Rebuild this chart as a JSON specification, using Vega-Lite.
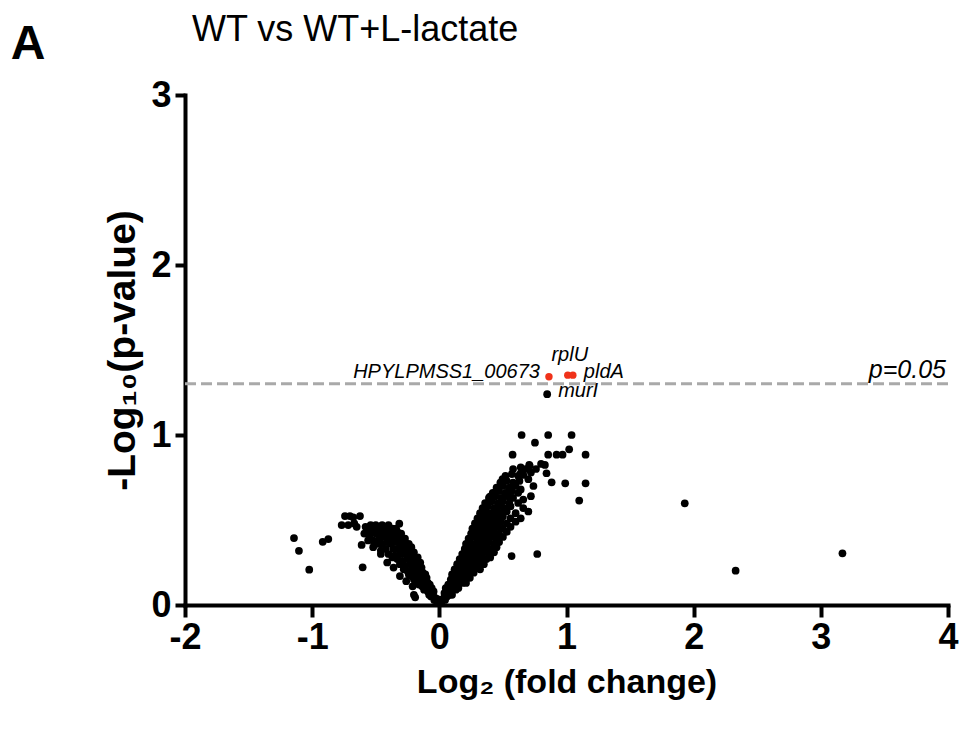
{
  "$schema": "https://vega.github.io/schema/vega-lite/v6.json",
  "width": 763,
  "height": 510,
  "autosize": {"type": "none"},
  "padding": {"left": 185, "top": 95, "right": 15, "bottom": 126},
  "background": "white",
  "config": {
    "view": {"stroke": null},
    "axis": {
      "grid": false,
      "domainColor": "black",
      "domainWidth": 4,
      "domainCap": "square",
      "tickColor": "black",
      "tickWidth": 4,
      "labelFont": "Liberation Sans",
      "labelFontWeight": "bold",
      "labelFontSize": 36,
      "labelColor": "black",
      "labelFlush": false,
      "labelOverlap": false,
      "titleFont": "Liberation Sans",
      "titleFontWeight": "bold",
      "titleColor": "black"
    }
  },
  "datasets": {
    "ns": [
      {"fc":-0.02,"logp":0.02},{"fc":-0.03,"logp":0.04},{"fc":-0.015,"logp":0.035},{"fc":-0.04,"logp":0.03},
      {"fc":-0.05,"logp":0.06},{"fc":-0.045,"logp":0.08},{"fc":-0.065,"logp":0.05},{"fc":-0.07,"logp":0.09},{"fc":-0.08,"logp":0.06},
      {"fc":-0.06,"logp":0.1},{"fc":-0.09,"logp":0.08},{"fc":-0.1,"logp":0.1},{"fc":-0.12,"logp":0.09},{"fc":-0.075,"logp":0.12},
      {"fc":-0.09,"logp":0.13},{"fc":-0.11,"logp":0.12},{"fc":-0.135,"logp":0.11},{"fc":-0.16,"logp":0.12},{"fc":-0.1,"logp":0.16},
      {"fc":-0.12,"logp":0.15},{"fc":-0.14,"logp":0.14},{"fc":-0.17,"logp":0.14},{"fc":-0.2,"logp":0.15},{"fc":-0.11,"logp":0.18},
      {"fc":-0.13,"logp":0.19},{"fc":-0.155,"logp":0.17},{"fc":-0.18,"logp":0.17},{"fc":-0.22,"logp":0.17},{"fc":-0.24,"logp":0.18},
      {"fc":-0.14,"logp":0.22},{"fc":-0.165,"logp":0.21},{"fc":-0.19,"logp":0.2},{"fc":-0.21,"logp":0.21},{"fc":-0.25,"logp":0.2},{"fc":-0.28,"logp":0.21},
      {"fc":-0.15,"logp":0.25},{"fc":-0.18,"logp":0.24},{"fc":-0.2,"logp":0.23},{"fc":-0.23,"logp":0.24},{"fc":-0.27,"logp":0.23},{"fc":-0.31,"logp":0.24},
      {"fc":-0.17,"logp":0.28},{"fc":-0.2,"logp":0.27},{"fc":-0.22,"logp":0.28},{"fc":-0.25,"logp":0.27},{"fc":-0.29,"logp":0.26},{"fc":-0.33,"logp":0.27},{"fc":-0.37,"logp":0.28},
      {"fc":-0.2,"logp":0.31},{"fc":-0.23,"logp":0.3},{"fc":-0.26,"logp":0.31},{"fc":-0.28,"logp":0.3},{"fc":-0.31,"logp":0.3},{"fc":-0.35,"logp":0.29},{"fc":-0.4,"logp":0.3},
      {"fc":-0.22,"logp":0.34},{"fc":-0.25,"logp":0.33},{"fc":-0.29,"logp":0.34},{"fc":-0.32,"logp":0.33},{"fc":-0.36,"logp":0.33},{"fc":-0.42,"logp":0.33},{"fc":-0.46,"logp":0.32},
      {"fc":-0.24,"logp":0.36},{"fc":-0.28,"logp":0.37},{"fc":-0.31,"logp":0.36},{"fc":-0.34,"logp":0.37},{"fc":-0.38,"logp":0.36},{"fc":-0.41,"logp":0.37},{"fc":-0.45,"logp":0.36},{"fc":-0.49,"logp":0.36},
      {"fc":-0.27,"logp":0.39},{"fc":-0.3,"logp":0.4},{"fc":-0.33,"logp":0.39},{"fc":-0.36,"logp":0.4},{"fc":-0.39,"logp":0.39},{"fc":-0.43,"logp":0.4},{"fc":-0.47,"logp":0.39},{"fc":-0.52,"logp":0.38},
      {"fc":-0.3,"logp":0.42},{"fc":-0.33,"logp":0.43},{"fc":-0.36,"logp":0.42},{"fc":-0.39,"logp":0.43},{"fc":-0.42,"logp":0.42},{"fc":-0.46,"logp":0.43},{"fc":-0.5,"logp":0.42},{"fc":-0.55,"logp":0.41},{"fc":-0.59,"logp":0.42},
      {"fc":-0.34,"logp":0.45},{"fc":-0.37,"logp":0.45},{"fc":-0.41,"logp":0.46},{"fc":-0.44,"logp":0.45},{"fc":-0.48,"logp":0.45},{"fc":-0.52,"logp":0.44},{"fc":-0.56,"logp":0.45},
      {"fc":-0.4,"logp":0.47},{"fc":-0.45,"logp":0.47},{"fc":-0.5,"logp":0.47},{"fc":-0.54,"logp":0.47},{"fc":-0.58,"logp":0.46},
      {"fc":-0.41,"logp":0.25},{"fc":-0.31,"logp":0.17},{"fc":-0.36,"logp":0.22},{"fc":-0.46,"logp":0.3},{"fc":-0.52,"logp":0.34},{"fc":-0.26,"logp":0.14},{"fc":-0.56,"logp":0.38},{"fc":-0.21,"logp":0.11},
      {"fc":-0.2,"logp":0.06},{"fc":-0.19,"logp":0.045},{"fc":-0.315,"logp":0.478},{"fc":-0.611,"logp":0.353},{"fc":-0.603,"logp":0.222},
      {"fc":-0.768,"logp":0.47},{"fc":-0.742,"logp":0.523},{"fc":-0.703,"logp":0.523},{"fc":-0.677,"logp":0.516},{"fc":-0.624,"logp":0.523},{"fc":-0.65,"logp":0.46},{"fc":-0.716,"logp":0.47},{"fc":-0.669,"logp":0.48},
      {"fc":-0.873,"logp":0.388},{"fc":-0.917,"logp":0.372},{"fc":-1.023,"logp":0.208},{"fc":-1.104,"logp":0.319},{"fc":-1.143,"logp":0.394},
      {"fc":0.02,"logp":0.02},{"fc":0.035,"logp":0.04},{"fc":0.015,"logp":0.03},{"fc":0.045,"logp":0.03},
      {"fc":0.04,"logp":0.07},{"fc":0.06,"logp":0.05},{"fc":0.08,"logp":0.06},{"fc":0.1,"logp":0.06},
      {"fc":0.05,"logp":0.1},{"fc":0.07,"logp":0.09},{"fc":0.1,"logp":0.09},{"fc":0.13,"logp":0.09},{"fc":0.15,"logp":0.1},
      {"fc":0.07,"logp":0.12},{"fc":0.09,"logp":0.13},{"fc":0.12,"logp":0.12},{"fc":0.15,"logp":0.12},{"fc":0.18,"logp":0.13},{"fc":0.21,"logp":0.13},
      {"fc":0.09,"logp":0.15},{"fc":0.11,"logp":0.16},{"fc":0.14,"logp":0.15},{"fc":0.17,"logp":0.16},{"fc":0.2,"logp":0.15},{"fc":0.24,"logp":0.16},
      {"fc":0.1,"logp":0.18},{"fc":0.13,"logp":0.19},{"fc":0.16,"logp":0.18},{"fc":0.19,"logp":0.19},{"fc":0.23,"logp":0.18},{"fc":0.27,"logp":0.19},
      {"fc":0.12,"logp":0.21},{"fc":0.15,"logp":0.22},{"fc":0.18,"logp":0.21},{"fc":0.21,"logp":0.22},{"fc":0.25,"logp":0.21},{"fc":0.29,"logp":0.22},{"fc":0.32,"logp":0.21},
      {"fc":0.14,"logp":0.24},{"fc":0.17,"logp":0.25},{"fc":0.2,"logp":0.24},{"fc":0.23,"logp":0.25},{"fc":0.27,"logp":0.24},{"fc":0.31,"logp":0.25},{"fc":0.35,"logp":0.24},
      {"fc":0.16,"logp":0.27},{"fc":0.19,"logp":0.28},{"fc":0.22,"logp":0.27},{"fc":0.25,"logp":0.28},{"fc":0.29,"logp":0.27},{"fc":0.33,"logp":0.28},{"fc":0.37,"logp":0.27},{"fc":0.4,"logp":0.28},
      {"fc":0.18,"logp":0.3},{"fc":0.21,"logp":0.31},{"fc":0.24,"logp":0.3},{"fc":0.27,"logp":0.31},{"fc":0.31,"logp":0.3},{"fc":0.35,"logp":0.31},{"fc":0.39,"logp":0.3},{"fc":0.43,"logp":0.31},
      {"fc":0.2,"logp":0.33},{"fc":0.23,"logp":0.34},{"fc":0.26,"logp":0.33},{"fc":0.3,"logp":0.34},{"fc":0.33,"logp":0.33},{"fc":0.37,"logp":0.34},{"fc":0.41,"logp":0.33},{"fc":0.45,"logp":0.34},
      {"fc":0.21,"logp":0.36},{"fc":0.24,"logp":0.37},{"fc":0.28,"logp":0.36},{"fc":0.32,"logp":0.37},{"fc":0.35,"logp":0.36},{"fc":0.39,"logp":0.37},{"fc":0.43,"logp":0.36},{"fc":0.47,"logp":0.37},
      {"fc":0.23,"logp":0.39},{"fc":0.26,"logp":0.4},{"fc":0.3,"logp":0.39},{"fc":0.34,"logp":0.4},{"fc":0.37,"logp":0.39},{"fc":0.41,"logp":0.4},{"fc":0.45,"logp":0.39},{"fc":0.5,"logp":0.4},
      {"fc":0.25,"logp":0.42},{"fc":0.28,"logp":0.43},{"fc":0.32,"logp":0.42},{"fc":0.36,"logp":0.43},{"fc":0.39,"logp":0.42},{"fc":0.43,"logp":0.43},{"fc":0.47,"logp":0.42},{"fc":0.53,"logp":0.43},
      {"fc":0.26,"logp":0.45},{"fc":0.3,"logp":0.46},{"fc":0.34,"logp":0.45},{"fc":0.38,"logp":0.46},{"fc":0.42,"logp":0.45},{"fc":0.46,"logp":0.46},{"fc":0.5,"logp":0.45},{"fc":0.56,"logp":0.46},
      {"fc":0.28,"logp":0.48},{"fc":0.32,"logp":0.49},{"fc":0.36,"logp":0.48},{"fc":0.4,"logp":0.49},{"fc":0.44,"logp":0.48},{"fc":0.48,"logp":0.49},{"fc":0.53,"logp":0.48},{"fc":0.6,"logp":0.49},
      {"fc":0.3,"logp":0.51},{"fc":0.34,"logp":0.52},{"fc":0.38,"logp":0.51},{"fc":0.42,"logp":0.52},{"fc":0.46,"logp":0.51},{"fc":0.5,"logp":0.52},{"fc":0.56,"logp":0.51},{"fc":0.64,"logp":0.51},
      {"fc":0.32,"logp":0.54},{"fc":0.36,"logp":0.55},{"fc":0.4,"logp":0.54},{"fc":0.44,"logp":0.55},{"fc":0.48,"logp":0.54},{"fc":0.53,"logp":0.55},{"fc":0.6,"logp":0.54},{"fc":0.7,"logp":0.55},
      {"fc":0.34,"logp":0.57},{"fc":0.38,"logp":0.58},{"fc":0.43,"logp":0.57},{"fc":0.47,"logp":0.58},{"fc":0.51,"logp":0.57},{"fc":0.56,"logp":0.58},{"fc":0.66,"logp":0.57},
      {"fc":0.36,"logp":0.6},{"fc":0.41,"logp":0.61},{"fc":0.46,"logp":0.6},{"fc":0.5,"logp":0.61},{"fc":0.55,"logp":0.6},{"fc":0.62,"logp":0.6},
      {"fc":0.39,"logp":0.63},{"fc":0.44,"logp":0.64},{"fc":0.49,"logp":0.63},{"fc":0.54,"logp":0.64},{"fc":0.58,"logp":0.63},{"fc":0.66,"logp":0.62},
      {"fc":0.42,"logp":0.66},{"fc":0.47,"logp":0.67},{"fc":0.52,"logp":0.66},{"fc":0.57,"logp":0.67},{"fc":0.62,"logp":0.66},
      {"fc":0.45,"logp":0.69},{"fc":0.5,"logp":0.7},{"fc":0.55,"logp":0.69},{"fc":0.6,"logp":0.7},{"fc":0.64,"logp":0.68},{"fc":0.72,"logp":0.64},
      {"fc":0.48,"logp":0.72},{"fc":0.53,"logp":0.73},{"fc":0.58,"logp":0.72},{"fc":0.63,"logp":0.73},{"fc":0.7,"logp":0.74},{"fc":0.74,"logp":0.7},
      {"fc":0.52,"logp":0.76},{"fc":0.57,"logp":0.77},{"fc":0.62,"logp":0.76},{"fc":0.66,"logp":0.765},{"fc":0.72,"logp":0.78},
      {"fc":0.58,"logp":0.8},{"fc":0.64,"logp":0.81},{"fc":0.68,"logp":0.8},{"fc":0.71,"logp":0.82},{"fc":0.76,"logp":0.8},{"fc":0.8,"logp":0.83},
      {"fc":0.568,"logp":0.288},{"fc":0.77,"logp":0.3},{"fc":0.398,"logp":0.637},{"fc":0.497,"logp":0.741},{"fc":0.639,"logp":0.775},{"fc":0.707,"logp":0.824},
      {"fc":0.83,"logp":0.824},{"fc":0.843,"logp":0.775},{"fc":0.883,"logp":0.722},{"fc":0.99,"logp":0.716},{"fc":1.15,"logp":0.716},{"fc":1.1,"logp":0.614},
      {"fc":0.576,"logp":0.884},{"fc":0.856,"logp":0.884},{"fc":0.922,"logp":0.884},{"fc":0.969,"logp":0.884},{"fc":1.021,"logp":0.916},{"fc":1.15,"logp":0.884},
      {"fc":0.647,"logp":1.0},{"fc":0.856,"logp":1.0},{"fc":1.04,"logp":1.0},{"fc":0.752,"logp":0.955},
      {"fc":0.848,"logp":1.24},{"fc":1.93,"logp":0.598},{"fc":2.33,"logp":0.202},{"fc":3.17,"logp":0.304}
    ],
    "sig": [
      {"fc":0.862,"logp":1.343,"gene":"HPYLPMSS1_00673"},
      {"fc":1.01,"logp":1.352,"gene":"rplU"},
      {"fc":1.05,"logp":1.352,"gene":"pldA"}
    ],
    "named": [
      {"fc":0.862,"logp":1.343,"gene":"HPYLPMSS1_00673"},
      {"fc":1.01,"logp":1.352,"gene":"rplU"},
      {"fc":1.05,"logp":1.352,"gene":"pldA"},
      {"fc":0.848,"logp":1.24,"gene":"murI"}
    ],
    "thr": [{"logp":1.301,"lab":"p=0.05"}],
    "heading": [{"tag":"A","title":"WT vs WT+L-lactate"}]
  },
  "layer": [
    {
      "data": {"name": "thr"},
      "mark": {"type": "rule", "color": "#a9a9a9", "strokeWidth": 3, "strokeDash": [11, 5]},
      "encoding": {
        "y": {"field": "logp", "type": "quantitative", "scale": {"domain": [0, 3], "nice": false}}
      }
    },
    {
      "data": {"name": "ns"},
      "mark": {"type": "circle", "size": 60, "color": "black", "opacity": 1},
      "encoding": {
        "x": {"field": "fc", "type": "quantitative", "scale": {"domain": [-2, 4], "nice": false, "zero": false},
              "axis": {"title": "Log₂ (fold change)", "titleFontSize": 34, "values": [-2, -1, 0, 1, 2, 3, 4], "labelExpr": "'' + datum.value", "tickSize": 12, "labelPadding": 3, "titlePadding": 10}},
        "y": {"field": "logp", "type": "quantitative", "scale": {"domain": [0, 3], "nice": false},
              "axis": {"title": "-Log₁₀(p-value)", "titleFontSize": 39, "values": [0, 1, 2, 3], "labelExpr": "'' + datum.value", "tickSize": 10, "labelPadding": 4, "titlePadding": 8}}
      }
    },
    {
      "data": {"name": "sig"},
      "mark": {"type": "circle", "size": 55, "color": "#f0321a", "opacity": 1},
      "encoding": {
        "x": {"field": "fc", "type": "quantitative"},
        "y": {"field": "logp", "type": "quantitative"}
      }
    },
    {
      "data": {"name": "named"},
      "transform": [{"filter": "datum.gene == 'HPYLPMSS1_00673'"}],
      "mark": {"type": "text", "align": "right", "baseline": "alphabetic", "dx": -9, "dy": 1, "font": "Liberation Sans", "fontStyle": "italic", "fontSize": 20, "color": "black"},
      "encoding": {
        "x": {"field": "fc", "type": "quantitative"},
        "y": {"field": "logp", "type": "quantitative"},
        "text": {"field": "gene"}
      }
    },
    {
      "data": {"name": "named"},
      "transform": [{"filter": "datum.gene == 'rplU'"}],
      "mark": {"type": "text", "align": "center", "baseline": "alphabetic", "dx": 2, "dy": -14, "font": "Liberation Sans", "fontStyle": "italic", "fontSize": 20, "color": "black"},
      "encoding": {
        "x": {"field": "fc", "type": "quantitative"},
        "y": {"field": "logp", "type": "quantitative"},
        "text": {"field": "gene"}
      }
    },
    {
      "data": {"name": "named"},
      "transform": [{"filter": "datum.gene == 'pldA' || datum.gene == 'murI'"}],
      "mark": {"type": "text", "align": "left", "baseline": "alphabetic", "dx": 11, "dy": 3, "font": "Liberation Sans", "fontStyle": "italic", "fontSize": 20, "color": "black"},
      "encoding": {
        "x": {"field": "fc", "type": "quantitative"},
        "y": {"field": "logp", "type": "quantitative"},
        "text": {"field": "gene"}
      }
    },
    {
      "data": {"name": "thr"},
      "mark": {"type": "text", "align": "right", "baseline": "alphabetic", "dx": -2, "dy": -6, "font": "Liberation Sans", "fontStyle": "italic", "fontSize": 25, "color": "black"},
      "encoding": {
        "x": {"datum": 4, "type": "quantitative"},
        "y": {"field": "logp", "type": "quantitative"},
        "text": {"field": "lab"}
      }
    },
    {
      "data": {"name": "heading"},
      "mark": {"type": "text", "align": "left", "baseline": "alphabetic", "dx": 7, "font": "Liberation Sans", "fontWeight": "normal", "fontSize": 36, "color": "black"},
      "encoding": {
        "x": {"datum": -2, "type": "quantitative"},
        "y": {"datum": 3.315, "type": "quantitative"},
        "text": {"field": "title"}
      }
    },
    {
      "data": {"name": "heading"},
      "mark": {"type": "text", "align": "left", "baseline": "alphabetic", "fontWeight": "bold", "font": "Liberation Sans", "fontSize": 48, "color": "black"},
      "encoding": {
        "x": {"datum": -3.37, "type": "quantitative"},
        "y": {"datum": 3.21, "type": "quantitative"},
        "text": {"field": "tag"}
      }
    }
  ]
}
